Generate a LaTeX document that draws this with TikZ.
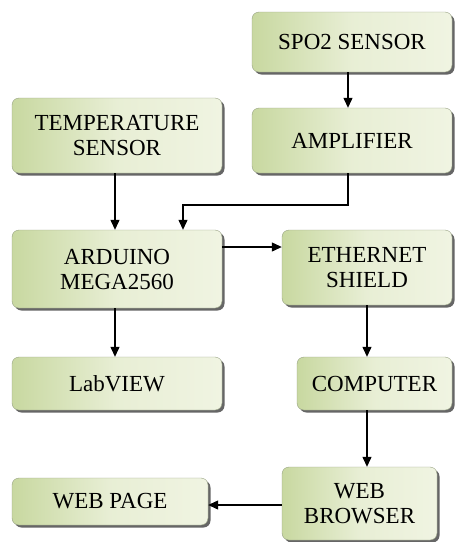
\documentclass[tikz,border=0pt]{standalone}
\usepackage{fontspec}
\setmainfont{Liberation Serif}
\usetikzlibrary{arrows.meta, shadows}
\definecolor{boxdark}{RGB}{200,216,160}
\definecolor{boxlight}{RGB}{240,244,226}
\definecolor{boxline}{RGB}{150,160,130}
\begin{document}
\begin{tikzpicture}[x=1pt, y=-1pt]
    % Define styles
    \tikzset{
        block/.style={
            draw=boxline,
            left color=boxdark,
            right color=boxlight,
            middle color=boxlight!80!boxdark,
            rounded corners=7pt,
            drop shadow={shadow xshift=2.5pt, shadow yshift=-2.5pt, fill=black!60, opacity=1},
            align=center,
            inner sep=0pt,
            font=\fontsize{23}{25}\selectfont
        },
        arrow/.style={
            -{Triangle[length=10pt, width=9pt]},
            line width=1.2pt
        }
    }

    \useasboundingbox (0,0) rectangle (457,542);

    % Sensor side
    \node[block, minimum width=200pt, minimum height=60pt] (spo2) at (352,42) {SPO2 SENSOR};
    \node[block, minimum width=200pt, minimum height=65pt] (amp) at (352,140.5) {AMPLIFIER};
    \node[block, minimum width=210pt, minimum height=75pt] (temp) at (117,135.5) {TEMPERATURE\\SENSOR};

    % Controller and network
    \node[block, minimum width=210pt, minimum height=78pt] (arduino) at (117,269) {ARDUINO\\MEGA2560};
    \node[block, minimum width=170pt, minimum height=75pt] (ether) at (367,267.5) {ETHERNET\\SHIELD};

    % Outputs
    \node[block, minimum width=210pt, minimum height=53pt] (labview) at (117,383.5) {LabVIEW};
    \node[block, minimum width=155pt, minimum height=53pt] (computer) at (374.5,383.5) {COMPUTER};
    \node[block, minimum width=155pt, minimum height=73pt] (browser) at (359.5,503.5) {WEB\\BROWSER};
    \node[block, minimum width=196pt, minimum height=47pt] (webpage) at (110,501.5) {WEB PAGE};

    % Connections
    \coordinate (bend1) at (348,205);
    \coordinate (bend2) at (183,205);
    \draw[arrow] (spo2.south -| 348,0) -- (amp.north -| 348,0);
    \draw[arrow] (temp.south -| 115,0) -- (arduino.north -| 115,0);
    \draw[arrow] (amp.south -| bend1) -- (bend1) -- (bend2) -- (arduino.north -| bend2);
    \draw[arrow] (arduino.east |- 0,247) -- (ether.west |- 0,247);
    \draw[arrow] (arduino.south -| 115,0) -- (labview.north -| 115,0);
    \draw[arrow] (ether.south -| 367,0) -- (computer.north -| 367,0);
    \draw[arrow] (computer.south -| 367,0) -- (browser.north -| 367,0);
    \draw[arrow] (browser.west |- 0,505) -- (webpage.east |- 0,505);

\end{tikzpicture}
\end{document}
